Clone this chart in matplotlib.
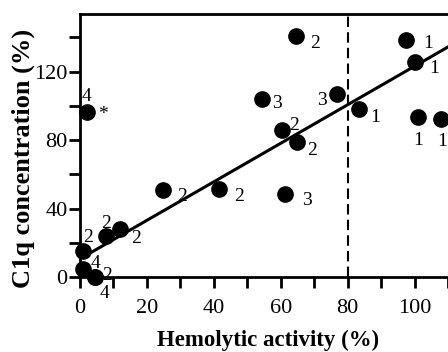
import matplotlib
matplotlib.use("Agg")
import matplotlib.pyplot as plt
import numpy as np

# Data
hemolytic = [2.0, 64.6, 97.5, 100.1, 54.5, 76.7, 83.3, 101.0, 107.9, 60.4, 64.9,
             24.9, 41.5, 61.3, 7.7, 12.1, 0.9, 0.9, 4.4, 4.4]
c1q = [96.5, 140.7, 138.4, 125.5, 103.9, 106.8, 98.1, 93.4, 92.3, 85.8, 78.8,
       50.8, 51.4, 48.5, 23.9, 28.0, 15.2, 4.7, 0.0, 0.0]
point_labels = ["4", "2", "1", "1", "3", "3", "1", "1", "1", "2", "2",
                "2", "2", "3", "2", "2", "2", "4", "2", "4"]
fit_x = [2.0, 112.0]
fit_slope = 1.125
fit_intercept = 10.6
cutoff = 80
xticks = [0, 20, 40, 60, 80, 100]
yticks = [0, 40, 80, 120]
xlabel = "Hemolytic activity (%)"
ylabel = "C1q concentration (%)"

# label offsets in pixels (style)
offsets = [(0, 15), (19, -7), (22, -3), (19, -6), (15, -4), (-15, -6), (16, -8),
           (0, -23), (1, -23), (12, 5), (15, -8), (19, -6), (20, -8), (22, -7),
           (0, 13), (16, -9), (5, 13), (12, 5), (12, 2), (10, -16)]

plt.rcParams['font.family'] = ['Liberation Serif', 'DejaVu Serif']
fig = plt.figure(figsize=(4.48, 3.52), dpi=100)
ax = fig.add_axes([80/448, 75/352, 1 - 80/448, (277-14)/352])

ax.set_xlim(0, 109)
ax.set_ylim(0, 153.6)

ax.axvline(cutoff, color='black', lw=1.5, ls=(0, (5, 2.5)), zorder=1)
fx = np.array(fit_x)
ax.plot(fx, fit_slope * fx + fit_intercept, color='black', lw=2.2, zorder=2)
ax.plot(hemolytic, c1q, 'o', color='black', ms=11, zorder=3, clip_on=False)

for x, y, lab, (dx, dy) in zip(hemolytic, c1q, point_labels, offsets):
    ax.annotate(lab, (x, y), xytext=(dx, dy), textcoords='offset pixels',
                ha='center', va='center', fontsize=14, annotation_clip=False)
ax.annotate("*", (hemolytic[0], c1q[0]), xytext=(16, -3), textcoords='offset pixels',
            ha='center', va='center', fontsize=14)

for s in ['left', 'bottom', 'top']:
    ax.spines[s].set_linewidth(2)
ax.spines['right'].set_visible(False)

ax.set_xticks(xticks)
ax.set_xticks([10, 30, 50, 70, 90, 110], minor=True)
ax.set_yticks(yticks)
ax.set_yticks([20, 60, 100, 140], minor=True)
ax.tick_params(which='both', direction='out', length=8, width=2)
ax.tick_params(axis='x', labelsize=16, pad=8)
ax.tick_params(axis='y', labelsize=16, pad=1)

ax.set_xlabel(xlabel, fontsize=16.5, fontweight='bold')
ax.set_ylabel(ylabel, fontsize=19, fontweight='bold')
ax.xaxis.set_label_coords(0.512, -0.20)
ax.yaxis.set_label_coords(-0.122, 0.452)

fig.savefig("out.png", dpi=100)
